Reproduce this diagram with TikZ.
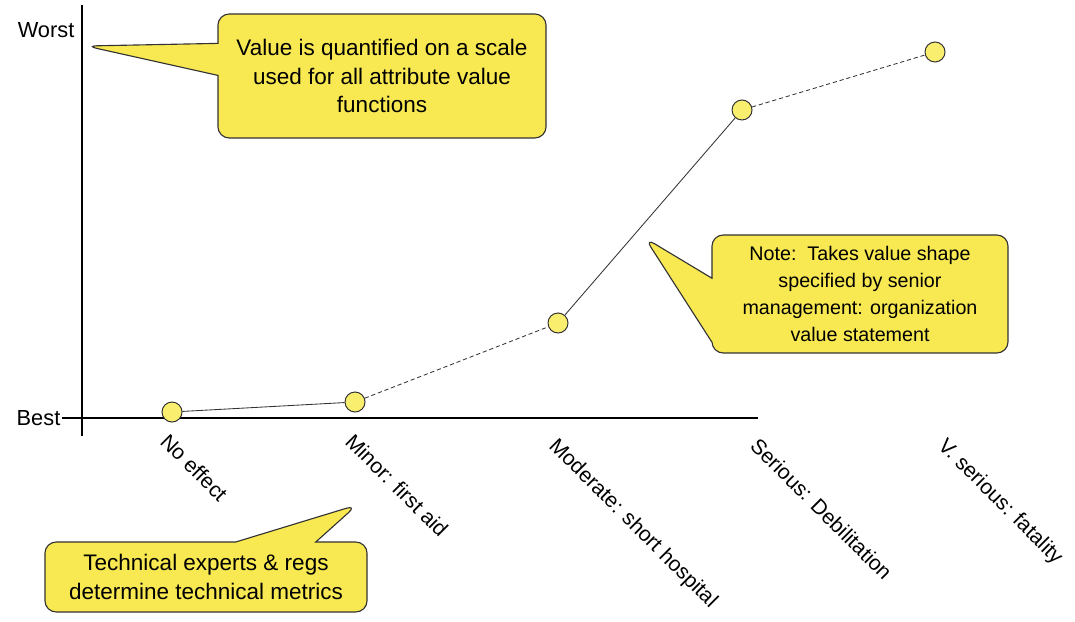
\documentclass[tikz,border=0pt]{standalone}
\usepackage{fontspec}
\setmainfont{Liberation Sans}
\usetikzlibrary{shapes.callouts}
\definecolor{noteyellow}{RGB}{248,232,82}
\definecolor{dotyellow}{RGB}{250,238,110}
\tikzset{
	note/.style={rectangle callout, draw=black!80, line width=0.8pt, fill=noteyellow,
		rounded corners=8pt, align=center, inner sep=4pt,
		font=\fontsize{16}{20}\selectfont},
	dot/.style={circle, draw=black!80, line width=0.7pt, fill=dotyellow,
		minimum size=0.5cm, inner sep=0pt},
	cat/.style={anchor=north west, rotate=-45, inner sep=0pt,
		font=\fontsize{15}{18}\selectfont},
	axlabel/.style={inner sep=1pt, font=\fontsize{15.5}{18}\selectfont},
	curve/.style={black!80, line width=0.6pt}
}
\begin{document}
\begin{tikzpicture}[x=0.025cm,y=-0.025cm]
	\useasboundingbox (0,0) rectangle (1075,622);
	%%%%%%%%%%%%%%%%%%%
	%      axes       %
	%%%%%%%%%%%%%%%%%%%
		\def\axisY{418}
		\coordinate (top) at (82,5);
		\coordinate (bottom) at (82,436);
		\coordinate (right) at (758,\axisY);
		\draw[line width=0.8pt] (top) -- (bottom);
		\node[axlabel, anchor=east] (worst) at (76,30) {Worst};
		\node[axlabel, anchor=east] (best) at (62,\axisY) {Best};
		\draw[line width=0.8pt] (best.east) -- (right);
	%%%%%%%%%%%%%%%%%%%
	%  value curve    %
	%%%%%%%%%%%%%%%%%%%
		\node[dot] (p1) at (172,412) {};
		\node[dot] (p2) at (355,402) {};
		\node[dot] (p3) at (558,323) {};
		\node[dot] (p4) at (742,110) {};
		\node[dot] (p5) at (935,52) {};
		\draw[curve] (p1) -- (p2);
		\draw[curve, densely dashed] (p2) -- (p3);
		\draw[curve] (p3) -- (p4);
		\draw[curve, densely dashed] (p4) -- (p5);
		% categories
		\foreach \x/\y/\txt/\name in {170/432/No effect/c1,355/432/Minor: first aid/c2,
				559/436/Moderate: short hospital/c3,760/436/Serious: Debilitation/c4,
				948/436/V. serious: fatality/c5}
			\node[cat] (\name) at (\x,\y) {\txt};
	%%%%%%%%%%%%%%%%%%%
	%    callouts     %
	%%%%%%%%%%%%%%%%%%%
		\coordinate (tipA) at (86,46);
		\coordinate (tipB) at (645,238);
		\coordinate (tipC) at (357,505);
		\node[note, minimum width=8.2cm, minimum height=3.1cm,
			callout absolute pointer={(tipA)}, callout pointer width=0.8cm] (scale) at (382,76)
			{Value is quantified on a scale\\used for all attribute value\\functions};
		\node[note, minimum width=7.4cm, minimum height=2.95cm, font=\fontsize{14}{19.4}\selectfont,
			callout absolute pointer={(tipB)}, callout pointer width=1.6cm] (shape) at (860,294)
			{Note:\ \ Takes value shape\\specified by senior\\management: organization\\value statement};
		\node[note, minimum width=8.05cm, minimum height=1.75cm,
			callout absolute pointer={(tipC)}, callout pointer width=2cm] (metrics) at (206,577)
			{Technical experts \& regs\\determine technical metrics};
\end{tikzpicture}
\end{document}
